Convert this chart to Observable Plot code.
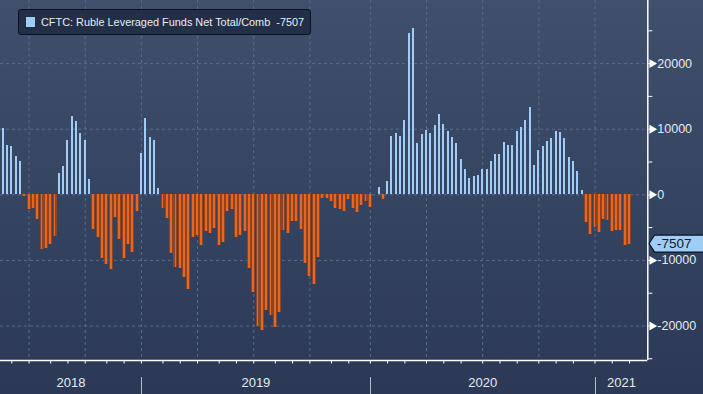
<!DOCTYPE html>
<html><head><meta charset="utf-8">
<script src="https://cdn.jsdelivr.net/npm/d3@7"></script>
<script src="https://cdn.jsdelivr.net/npm/@observablehq/plot@0.6"></script>
<style>
html,body{margin:0;padding:0;width:703px;height:394px;overflow:hidden;background:#2c3a58;}
#wrap{position:relative;width:703px;height:394px;background:linear-gradient(#3f4f6c,#2b3956);}
#wrap svg{position:absolute;left:0;top:0;}
#legend{position:absolute;left:18px;top:9px;width:291px;height:24px;background:#222f47;border:1px solid #0b1120;border-radius:3px;font:10.9px "Liberation Sans",Arial,sans-serif;color:#e8ecf2;display:flex;align-items:center;white-space:pre;overflow:hidden;}
#legend .sw{display:inline-block;flex:0 0 9px;width:9px;height:10px;background:#a0cdf5;margin:0 6px 0 7px;}
</style></head><body>
<div id="wrap"></div>
<script>
// Weekly CFTC readings (Tuesdays), first = 2018-05-22, last = 2021-03-02
const firstWeek = "2018-05-22";
const values = [
  10110, 7520, 7370, 5840, 5080,
  -200, -2240, -2030, -3760, -8330, -8130, -7520, -6300,
  3200, 4320, 8280, 11940, 11180, 9350, 8330, 2340,
  -5280, -6450, -9650, -10700, -11380, -3400, -6800, -9680, -7520, -8770, -2520,
  6300, 11630, 8740, 8280, 970,
  -2030, -3560, -8890, -11050, -11200, -12580, -14400, -6450, -6200, -7720, -5570, -5960, -5080,
  -7720, -7210, -2540, -2290, -6450, -6200, -5590, -11180, -14940, -20020, -20680, -17630,
  -18390, -20170, -17980, -5440, -5840, -4010, -4010, -5280, -10520, -12450, -13610, -9500,
  -500, -500, -970, -2050, -2200, -2500, -780, -2050, -2700, -1630, -1050, -1930,
  60, 1170, -680,
  2030, 8890, 9300, 8890, 11330, 24640, 25350, 7770, 9190, 9800, 9400, 10570, 12240, 10720,
  9650, 8740, 7820, 5380, 3860, 2490, 2790, 2950, 3860, 3860, 5080, 6150, 6150, 7980, 7520,
  7520, 9650, 10260, 11330, 13310, 4470, 6760, 7370, 8130, 8590, 9650, 9500, 8590, 5690,
  5080, 3560, 660,
  -4170, -6050, -4930, -5690, -3760, -3910, -5540, -5440, -5440, -7720, -7507
];
const yMajorTicks = [-20000, -10000, 0, 10000, 20000];
const yMinorTicks = [-25000, -20000, -15000, -10000, -5000, 0, 5000, 10000, 15000, 20000, 25000];
const yearLabels = ["2018", "2019", "2020", "2021"];
const seriesName = "CFTC: Ruble Leveraged Funds Net Total/Comb";
const lastValue = values[values.length - 1];

const start = new Date(firstWeek + "T00:00:00Z");
const data = values.map((v, i) => ({date: d3.utcDay.offset(start, 7 * i), value: v}));
const dates = data.map(d => d.date);

// ticks at first weekly reading of each month
const monthTicks = dates.filter((d, i) => i > 0 && d.getUTCMonth() !== dates[i - 1].getUTCMonth());
const quarterTicks = monthTicks.filter(d => d.getUTCMonth() % 3 === 0);
const yearTicks = monthTicks.filter(d => d.getUTCMonth() === 0);

// layout
const W = 703, H = 394, mR = 55.7, mB = 34;
const plotW = W - mR;
const DAY = 864e5;
const pxPerDay = 4.32 / 7;
const anchor = +yearTicks[0];
const anchorPx = 140.9;
const xStart = new Date(anchor - anchorPx / pxPerDay * DAY);
const xEnd = new Date(anchor + (plotW - anchorPx) / pxPerDay * DAY);
const hw = px => px / pxPerDay * DAY;

const bounds = [xStart, ...yearTicks, xEnd];
const yearMids = yearLabels.map((t, i) => ({label: t, date: new Date((+bounds[i] + +bounds[i + 1]) / 2)}));

const pos = data.filter(d => d.value >= 0);
const neg = data.filter(d => d.value < 0);

const gridStyle = {stroke: "#566d90", strokeOpacity: 1, strokeDasharray: "3,3", strokeWidth: 1};

function yearSeparators(index, scales) {
  const g = d3.create("svg:g");
  for (const d of yearTicks) {
    const x = Math.round(scales.x(d)) + 0.5;
    g.append("line").attr("x1", x).attr("x2", x).attr("y1", 377).attr("y2", H)
      .attr("stroke", "#b4bccb").attr("stroke-width", 1);
  }
  return g.node();
}

function valueBox(index, scales) {
  const g = d3.create("svg:g");
  const y = scales.y(lastValue);
  const x = scales.x(xEnd) + 1.8;
  g.append("path")
    .attr("d", `M${x},${y} L${x + 5.5},${y - 8.5} L${W + 2},${y - 8.5} L${W + 2},${y + 8.5} L${x + 5.5},${y + 8.5} Z`)
    .attr("fill", "#a0cdf5").attr("stroke", "#08142a").attr("stroke-width", 1.2);
  g.append("text").attr("x", x + 8).attr("y", y).attr("dy", "0.36em")
    .attr("text-anchor", "start")
    .attr("fill", "#0e1a2e").attr("font-size", 13.5).text(String(lastValue));
  return g.node();
}

const chart = Plot.plot({
  width: W, height: H,
  marginLeft: 0, marginRight: mR, marginTop: 0, marginBottom: mB,
  style: {background: "transparent", fontFamily: "'Liberation Sans', Arial, sans-serif", fontSize: "12.5px", color: "#e6e9ee"},
  x: {type: "utc", domain: [xStart, xEnd], axis: null},
  y: {domain: [-25260, 29620], axis: null},
  marks: [
    Plot.gridX(quarterTicks, gridStyle),
    Plot.gridY(yMajorTicks, gridStyle),
    Plot.rect(neg, {x1: d => new Date(+d.date - hw(2.0)), x2: d => new Date(+d.date + hw(2.0)), y1: 0, y2: "value", fill: "#8a4526", shapeRendering: "crispEdges"}),
    Plot.rect(neg, {x1: d => new Date(+d.date - hw(0.95)), x2: d => new Date(+d.date + hw(0.95)), y1: 0, y2: "value", fill: "#ea661f", shapeRendering: "crispEdges"}),
    Plot.rect(pos, {x1: d => new Date(+d.date - hw(1.0)), x2: d => new Date(+d.date + hw(1.0)), y1: 0, y2: "value", fill: "#a0cdf5", shapeRendering: "crispEdges"}),
    Plot.ruleY([-25260], {stroke: "white", strokeWidth: 1.5}),
    Plot.ruleX([xEnd], {stroke: "white", strokeWidth: 1.5}),
    Plot.axisX(monthTicks, {anchor: "bottom", tickSize: 3.5, tickFormat: () => "", stroke: "white", label: null}),
    Plot.axisY(yMinorTicks, {anchor: "right", tickSize: 4, tickFormat: () => "", stroke: "white", label: null}),
    Plot.dot(yMajorTicks, {x: () => xEnd, y: d => d, symbol: "triangle", r: 3.3, rotate: 90, fill: "white", stroke: null, dx: 4.2}),
    Plot.text(yMajorTicks, {x: () => xEnd, y: d => d, text: d => String(d), textAnchor: "start", dx: 9.5, fill: "#e6e9ee", fontSize: 12.5}),
    yearSeparators,
    Plot.text(yearMids, {x: "date", text: "label", frameAnchor: "bottom", dy: 26, fill: "#e6e9ee", fontSize: 13}),
    valueBox
  ]
});

const wrap = document.getElementById("wrap");
wrap.appendChild(chart);
const legend = document.createElement("div");
legend.id = "legend";
legend.innerHTML = `<span class="sw"></span><span></span>`;
legend.lastChild.textContent = seriesName + "  " + lastValue;
wrap.appendChild(legend);
</script>
</body></html>
